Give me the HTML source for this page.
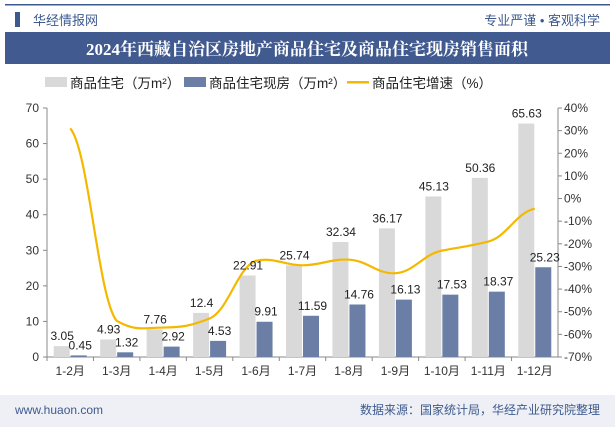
<!DOCTYPE html>
<html><head><meta charset="utf-8">
<style>
body{margin:0;width:615px;height:427px;overflow:hidden;background:#fff;font-family:"Liberation Sans","Noto Sans CJK SC",sans-serif;}
</style></head>
<body>
<svg width="615" height="427" xmlns="http://www.w3.org/2000/svg" style="position:absolute;left:0;top:0">
<rect x="0" y="0" width="615" height="427" fill="#fff"/>
<rect x="5" y="4" width="605" height="1.5" fill="#3d5a8e"/>
<rect x="15" y="12" width="5" height="15" fill="#3d5a8e"/>
<text x="33" y="25" font-size="13" fill="#3d5a8e">华经情报网</text>
<text x="600" y="25" font-size="13" fill="#3d5a8e" text-anchor="end">专业严谨 • 客观科学</text>
<rect x="5" y="32" width="605" height="32" fill="#415a8f"/>
<text x="307" y="55" font-size="17" font-weight="bold" fill="#fff" text-anchor="middle" font-family="'Liberation Serif','Noto Serif CJK SC',serif">2024年西藏自治区房地产商品住宅及商品住宅现房销售面积</text>
<g font-size="13.5" fill="#222">
<rect x="45" y="77" width="22" height="10" fill="#d9d9d9"/>
<text x="70" y="88">商品住宅（万m²）</text>
<rect x="184" y="77" width="22" height="10" fill="#6b7fa6"/>
<text x="209" y="88">商品住宅现房（万m²）</text>
<rect x="347" y="81" width="22" height="2.5" fill="#f5b800"/>
<text x="372" y="88">商品住宅增速（%）</text>
</g>
<g id="plot"></g>
<rect x="0" y="395" width="615" height="32" fill="#eef0f5"/>
<text x="15" y="414" font-size="12" fill="#3d5a8e">www.huaon.com</text>
<text x="600" y="414" font-size="12" fill="#3d5a8e" text-anchor="end">数据来源：国家统计局，华经产业研究院整理</text>
</svg>
<script>
const categories=["1-2月","1-3月","1-4月","1-5月","1-6月","1-7月","1-8月","1-9月","1-10月","1-11月","1-12月"];
const totalArea=[3.05,4.93,7.76,12.4,22.91,25.74,32.34,36.17,45.13,50.36,65.63];
const existingArea=[0.45,1.32,2.92,4.53,9.91,11.59,14.76,16.13,17.53,18.37,25.23];
const growth=[31,-54,-57,-53,-27.5,-29.5,-27,-33,-23,-19,-4.5];
const leftTicks=[0,10,20,30,40,50,60,70];
const rightTicks=[40,30,20,10,0,-10,-20,-30,-40,-50,-60,-70];
const NS="http://www.w3.org/2000/svg";
const g=document.getElementById('plot');
const X0=47,X1=558,Y0=357,Y1=108;
const step=(X1-X0)/categories.length;
const xc=i=>X0+step*(i+0.5);
const yL=v=>Y0-(v/70)*(Y0-Y1);
const yR=v=>Y0-((v+70)/110)*(Y0-Y1);
function mk(t,a,txt){const e=document.createElementNS(NS,t);for(const k in a)e.setAttribute(k,a[k]);if(txt!==undefined)e.textContent=txt;g.appendChild(e);return e;}
let ax=mk('line',{x1:X0,y1:Y1,x2:X0,y2:Y0,stroke:'#888'});

let bx=mk('line',{x1:X0,y1:Y0,x2:X1,y2:Y0,stroke:'#888'});

let rx=mk('line',{x1:X1,y1:Y1,x2:X1,y2:Y0,stroke:'#888'});

leftTicks.forEach(v=>{let t=mk('text',{x:X0-8,y:yL(v)+4,'font-size':12,'text-anchor':'end',fill:'#333'},v);

mk('line',{x1:X0-4,y1:yL(v),x2:X0,y2:yL(v),stroke:'#888'});});
rightTicks.forEach(v=>{let t=mk('text',{x:X1+6,y:yR(v)+4,'font-size':12,fill:'#333'},v+'%');

mk('line',{x1:X1,y1:yR(v),x2:X1+4,y2:yR(v),stroke:'#888'});});
const bw=16;
categories.forEach((c,i)=>{
 const cx=xc(i);
 let t=mk('text',{x:cx,y:Y0+18,'font-size':12,'text-anchor':'middle',fill:'#333'},c);
 
 mk('line',{x1:X0+step*i,y1:Y0,x2:X0+step*i,y2:Y0+4,stroke:'#888'});
 let b1=mk('rect',{x:cx-bw-0.5,y:yL(totalArea[i]),width:bw,height:Y0-yL(totalArea[i]),fill:'#d9d9d9'});
 
 let b2=mk('rect',{x:cx+0.5,y:yL(existingArea[i]),width:bw,height:Y0-yL(existingArea[i]),fill:'#6b7fa6'});
 
});
const pts=growth.map((v,i)=>[xc(i),yR(v)]);
let d='M'+pts[0][0]+','+pts[0][1];
const k=9;
for(let i=0;i<pts.length-1;i++){const p0=pts[Math.max(i-1,0)],p1=pts[i],p2=pts[i+1],p3=pts[Math.min(i+2,pts.length-1)];
let c1y=p1[1]+(p2[1]-p0[1])/k, c2y=p2[1]-(p3[1]-p1[1])/k;
const lo=Math.min(p1[1],p2[1])-4, hi=Math.max(p1[1],p2[1])+4;
c1y=Math.max(lo,Math.min(hi,c1y));c2y=Math.max(lo,Math.min(hi,c2y));
d+=' C'+(p1[0]+step/2.5)+','+c1y+' '+(p2[0]-step/2.5)+','+c2y+' '+p2[0]+','+p2[1];}
let ln=mk('path',{d:d,fill:'none',stroke:'#f5b800','stroke-width':2.2});

categories.forEach((c,i)=>{const cx=xc(i);
 let a=mk('text',{x:cx-bw/2,y:yL(totalArea[i])-6,'font-size':12,'text-anchor':'middle',fill:'#222'},totalArea[i]);
 
 let b=mk('text',{x:cx+bw/2+2,y:yL(existingArea[i])-6,'font-size':12,'text-anchor':'middle',fill:'#222'},existingArea[i]);
 
});
</script>
</body></html>
